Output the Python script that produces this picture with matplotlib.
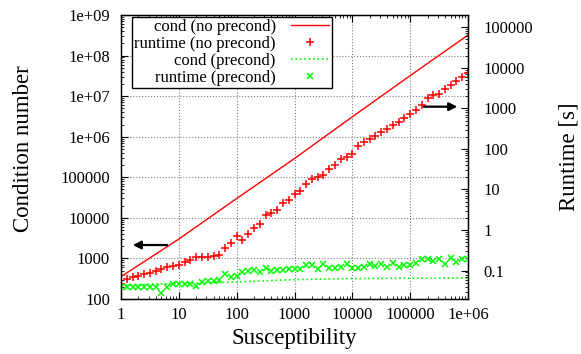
import numpy as np
import matplotlib
matplotlib.use('Agg')
import matplotlib.pyplot as plt
from matplotlib.ticker import LogLocator, FuncFormatter, NullFormatter

plt.rcParams['font.family'] = ['Liberation Serif', 'DejaVu Serif']

# susceptibility grid (10 samples per decade)
chi = np.logspace(0, 6, 61)

# condition number, read at decades
cond_x = [1, 10, 100, 1e3, 1e4, 1e5, 1e6]
cond_noprec = [355, 3000, 30000, 2.9e5, 3.1e6, 3.2e7, 3.2e8]

cond_prec_x = [1, 3, 10, 30, 100, 300, 1e3, 1e4, 1e5, 1e6]
cond_prec = [215, 230, 242, 250, 262, 280, 300, 320, 325, 328]

# runtime [s]
rt_noprec = [0.048, 0.061, 0.068, 0.074, 0.081, 0.088, 0.097, 0.109, 0.124, 0.131,
             0.137, 0.165, 0.181, 0.211, 0.219, 0.215, 0.228, 0.245, 0.352, 0.468,
             0.72, 0.56, 0.82, 1.13, 1.45, 2.33, 2.65, 3.09, 4.52, 5.45,
             7.66, 9.07, 13.5, 17.9, 19.8, 22.5, 32.2, 41.3, 55.7, 65,
             77, 117, 149, 173, 206, 262, 311, 384, 462, 593,
             744, 898, 1241, 1804, 2100, 2225, 2953, 3855, 4650, 5830,
             7310]

rt_prec = [0.040, 0.040, 0.040, 0.040, 0.040, 0.0385, 0.0385, 0.0284, 0.040, 0.0465,
           0.0465, 0.0465, 0.048, 0.0415, 0.053, 0.055, 0.057, 0.058, 0.0806, 0.068,
           0.073, 0.092, 0.099, 0.103, 0.092, 0.113, 0.100, 0.103, 0.103, 0.107,
           0.107, 0.111, 0.136, 0.136, 0.111, 0.142, 0.113, 0.113, 0.124, 0.145,
           0.117, 0.117, 0.124, 0.145, 0.131, 0.145, 0.120, 0.150, 0.122, 0.139,
           0.139, 0.150, 0.189, 0.189, 0.171, 0.189, 0.142, 0.203, 0.162, 0.195,
           0.189]

W, H = 581, 354
fig = plt.figure(figsize=(W / 100, H / 100), dpi=100)
ax = fig.add_axes([121 / W, 1 - 299 / H, (468 - 121) / W, (299 - 15) / H])
ax2 = ax.twinx()

def gfmt(v, pos):
    return '%g' % v

l1, = ax.plot(cond_x, cond_noprec, '-', color='#ff0000', lw=1.0,
              label='cond (no precond)')
l2, = ax2.plot(chi, rt_noprec, '+', color='#ff0000', ms=6, mew=1.1,
               label='runtime (no precond)')
l3, = ax.plot(cond_prec_x, cond_prec, ':', color='#00ff00', lw=1.2,
              label='cond (precond)')
l4, = ax2.plot(chi, rt_prec, 'x', color='#00ff00', ms=4.8, mew=1.1,
               label='runtime (precond)')

for a in (ax, ax2):
    a.set_xscale('log')
    a.set_yscale('log')
ax.set_xlim(1, 1e6)
ax.set_ylim(100, 1e9)
ax2.set_ylim(0.02, 2e5)

for a in (ax, ax2):
    a.xaxis.set_major_locator(LogLocator(base=10, numticks=20))
    a.xaxis.set_minor_locator(LogLocator(base=10, subs=np.arange(2, 10), numticks=20))
    a.yaxis.set_major_locator(LogLocator(base=10, numticks=20))
    a.yaxis.set_minor_locator(LogLocator(base=10, subs=np.arange(2, 10), numticks=20))
    a.yaxis.set_major_formatter(FuncFormatter(gfmt))
    a.yaxis.set_minor_formatter(NullFormatter())
ax.xaxis.set_major_formatter(FuncFormatter(gfmt))
ax.xaxis.set_minor_formatter(NullFormatter())

ax.tick_params(which='both', direction='in', top=True, right=False, labelsize=12)
ax.tick_params(axis='y', pad=8)
ax.tick_params(axis='x', pad=6)
ax.tick_params(which='major', length=5, width=0.8)
ax.tick_params(which='minor', length=2.5, width=0.6)
ax2.tick_params(which='both', direction='in', labelsize=12, pad=11)
ax2.tick_params(which='major', length=5, width=0.8)
ax2.tick_params(which='minor', length=2.5, width=0.6)

ax.grid(True, which='major', linestyle=':', color='0.5', lw=0.8)
for s in ax.spines.values():
    s.set_linewidth(1.0)

ax.set_xlabel('Susceptibility', fontsize=16.5)
ax.set_ylabel('Condition number', fontsize=16.5)
ax2.set_ylabel('Runtime [s]', fontsize=16.5)
ax.xaxis.set_label_coords(0.5, -0.102)
ax.yaxis.set_label_coords(-0.25, 0.528)
ax2.yaxis.set_label_coords(1.262, 0.5)

# arrows pointing to the matching axis
ax.annotate('', xy=(1.43, 2140), xytext=(7.0, 2140),
            arrowprops=dict(arrowstyle='-|>', color='black', lw=1.6,
                            mutation_scale=12))
ax2.annotate('', xy=(7.3e5, 1100), xytext=(1.55e5, 1100),
             arrowprops=dict(arrowstyle='-|>', color='black', lw=1.6,
                             mutation_scale=12))

leg = ax2.legend(handles=[l1, l2, l3, l4], loc='upper left',
                 bbox_to_anchor=(0.031, 0.994), borderaxespad=0,
                 markerfirst=False, fontsize=12, fancybox=False,
                 edgecolor='black', framealpha=1, handlelength=2.3,
                 handletextpad=0.9, labelspacing=0.05, borderpad=0.15)
leg.get_frame().set_linewidth(1.0)

fig.savefig('out.png', dpi=100)
